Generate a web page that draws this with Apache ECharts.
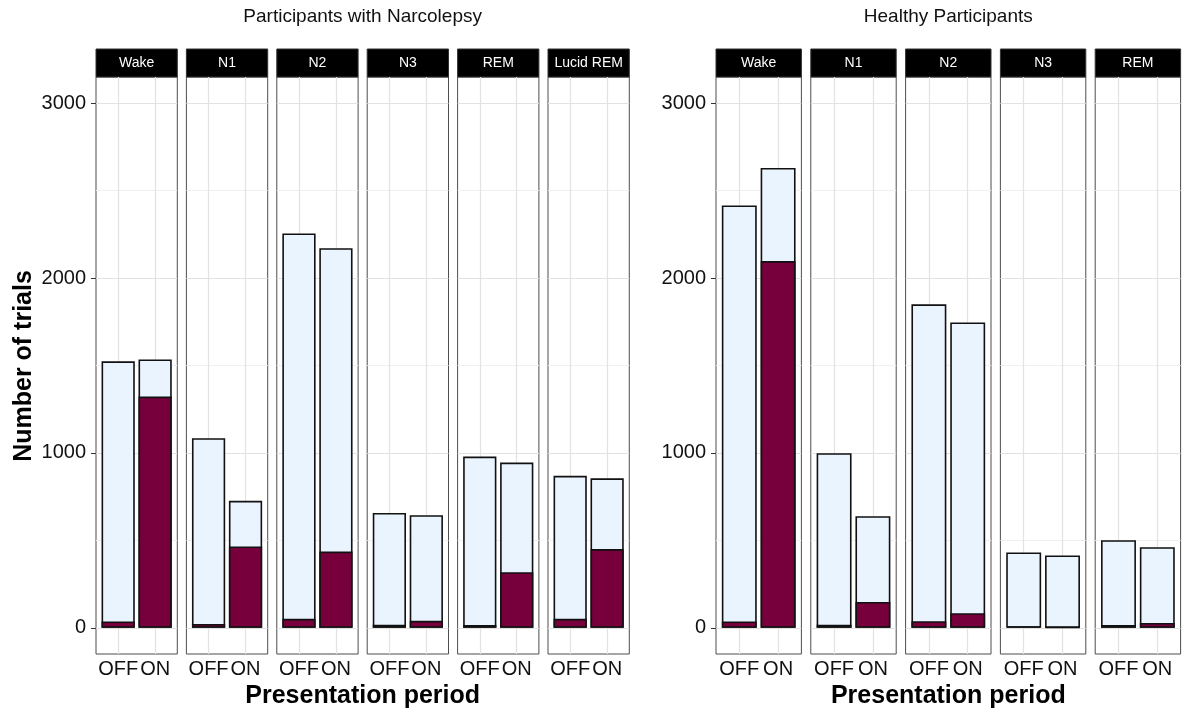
<!DOCTYPE html>
<html>
<head>
<meta charset="utf-8">
<title>Number of trials by sleep stage</title>
<script src="https://cdn.jsdelivr.net/npm/echarts@6/dist/echarts.min.js"></script>
<style>
  html, body { margin: 0; padding: 0; background: #fff; }
  #main { width: 1187px; height: 714px; }
</style>
</head>
<body>
<div id="main"></div>
<script>
// --- data ---
var periods = ['OFF', 'ON'];

var narcoStages = ['Wake', 'N1', 'N2', 'N3', 'REM', 'Lucid REM'];
var narcoTotalOff = [1524, 1084, 2255, 657, 979, 869];
var narcoTotalOn = [1535, 726, 2171, 644, 945, 855];
var narcoRespOff = [36, 22, 51, 18, 16, 51];
var narcoRespOn = [1322, 465, 436, 40, 318, 450];

var healthyStages = ['Wake', 'N1', 'N2', 'N3', 'REM'];
var healthyTotalOff = [2415, 998, 1850, 431, 501];
var healthyTotalOn = [2630, 638, 1746, 414, 461];
var healthyRespOff = [36, 17, 38, 8, 16];
var healthyRespOn = [2097, 148, 83, 3, 28];

var yTicks = [0, 1000, 2000, 3000];
var yMinorTicks = [500, 1500, 2500];

// --- layout ---
var font = "'Liberation Sans', Arial, Helvetica, sans-serif";
var panelTop = 77, panelBottom = 654;
var groups = [
  { title: 'Participants with Narcolepsy', stages: narcoStages,
    totOff: narcoTotalOff, totOn: narcoTotalOn, resOff: narcoRespOff, resOn: narcoRespOn,
    left: 96, width: 81.3, step: 90.4 },
  { title: 'Healthy Participants', stages: healthyStages,
    totOff: healthyTotalOff, totOn: healthyTotalOn, resOff: healthyRespOff, resOn: healthyRespOn,
    left: 716, width: 85.4, step: 94.8 }
];

var grid = [], xAxis = [], yAxis = [], series = [], graphic = [];
var k = 0;

groups.forEach(function (g) {
  g.stages.forEach(function (stage, j) {
    var left = g.left + j * g.step;
    var bw = g.width / 2.2 * 0.9;
    grid.push({
      left: left, top: panelTop, width: g.width, height: panelBottom - panelTop,
      show: true, backgroundColor: '#fff', borderColor: '#4d4d4d', borderWidth: 1
    });
    xAxis.push({
      type: 'value', gridIndex: k, min: 0.4, max: 2.6,
      axisLine: { show: false },
      splitLine: { show: false },
      axisTick: { show: true, customValues: [1, 2], length: 4, lineStyle: { color: '#333' } },
      axisLabel: {
        customValues: [1, 2], margin: 5, fontSize: 20, color: '#111', fontFamily: font,
        formatter: function (v) { return periods[Math.round(v) - 1]; }
      }
    });
    var first = j === 0;
    yAxis.push({
      type: 'value', gridIndex: k, min: -150, max: 3150,
      axisLine: { show: false },
      splitLine: { show: false },
      axisTick: { show: first, customValues: yTicks, length: 5, lineStyle: { color: '#333' } },
      axisLabel: {
        show: first, customValues: yTicks, margin: 10, fontSize: 20, color: '#111', fontFamily: font,
        formatter: function (v) { return String(v); }
      }
    });

    var lines = [];
    yMinorTicks.forEach(function (v) {
      lines.push({ yAxis: v, lineStyle: { color: '#F0F0F0', width: 1, type: 'solid' } });
    });
    yTicks.forEach(function (v) {
      lines.push({ yAxis: v, lineStyle: { color: '#E2E2E2', width: 1.2, type: 'solid' } });
    });
    [1, 2].forEach(function (v) {
      lines.push({ xAxis: v, lineStyle: { color: '#E2E2E2', width: 1.2, type: 'solid' } });
    });
    series.push({
      type: 'line', xAxisIndex: k, yAxisIndex: k, data: [], silent: true,
      markLine: { silent: true, symbol: 'none', animation: false, label: { show: false }, z: 1, data: lines }
    });
    series.push({
      name: 'trials', type: 'bar', xAxisIndex: k, yAxisIndex: k, z: 10,
      barWidth: bw, barGap: '-100%',
      data: [[1, g.totOff[j]], [2, g.totOn[j]]],
      itemStyle: { color: '#EAF4FF', borderColor: '#111', borderWidth: 1.6 }
    });
    series.push({
      name: 'responses', type: 'bar', xAxisIndex: k, yAxisIndex: k, z: 11,
      barWidth: bw, barGap: '-100%',
      data: [[1, g.resOff[j]], [2, g.resOn[j]]],
      itemStyle: { color: '#77003C', borderColor: '#111', borderWidth: 1.6 }
    });

    // facet strip
    graphic.push({
      type: 'rect', shape: { x: left, y: 49, width: g.width, height: 28 },
      style: { fill: '#000', stroke: '#333', lineWidth: 1 }
    });
    graphic.push({
      type: 'text', x: left + g.width / 2, y: 63,
      style: { text: stage, fill: '#fff', font: '14px ' + font, align: 'center', verticalAlign: 'middle' }
    });
    k++;
  });

  var n = g.stages.length;
  var cx = g.left + ((n - 1) * g.step + g.width) / 2;
  graphic.push({
    type: 'text', x: cx, y: 17,
    style: { text: g.title, fill: '#111', font: '19px ' + font, align: 'center', verticalAlign: 'middle' }
  });
  graphic.push({
    type: 'text', x: cx, y: 696,
    style: { text: 'Presentation period', fill: '#000', font: 'bold 25px ' + font, align: 'center', verticalAlign: 'middle' }
  });
});

graphic.push({
  type: 'text', x: 24, y: 366, rotation: Math.PI / 2,
  style: { text: 'Number of trials', fill: '#000', font: 'bold 25px ' + font, align: 'center', verticalAlign: 'middle' }
});

var chart = echarts.init(document.getElementById('main'), null, { renderer: 'canvas' });
chart.setOption({
  backgroundColor: '#fff',
  animation: false,
  grid: grid,
  xAxis: xAxis,
  yAxis: yAxis,
  series: series,
  graphic: graphic
});
</script>
</body>
</html>
